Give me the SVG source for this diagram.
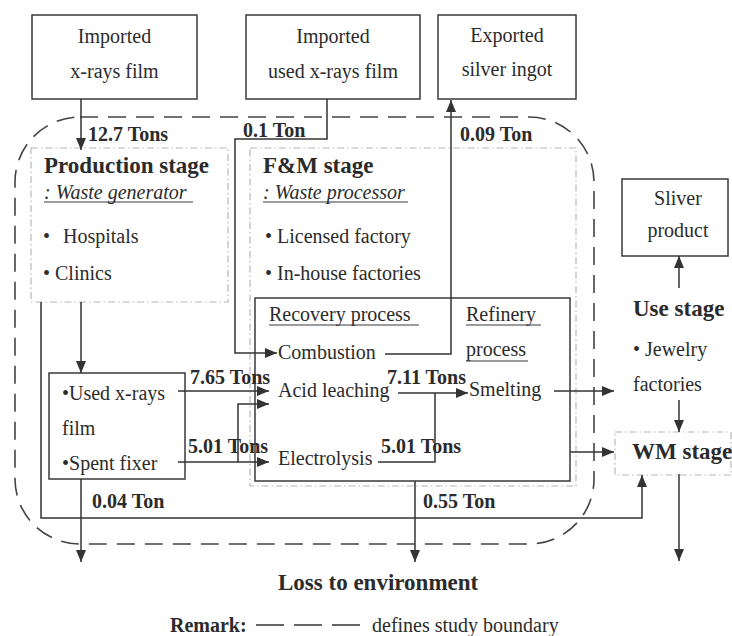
<svg xmlns="http://www.w3.org/2000/svg" width="732" height="636" viewBox="0 0 732 636">
<defs>
<marker id="ah" viewBox="0 0 12 10" refX="12" refY="5" markerWidth="12" markerHeight="10" markerUnits="userSpaceOnUse" orient="auto">
<path d="M0,0 L12,5 L0,10 z" fill="#333"/>
</marker>
<style>
text{font-family:"Liberation Serif","Times New Roman",serif;fill:#2b2b2b}
.t{font-size:20px}
.c{text-anchor:middle}
.b{font-size:20px;font-weight:bold}
.h{font-size:23px;font-weight:bold}
.i{font-size:20px;font-style:italic}
.box{fill:none;stroke:#3a3a3a;stroke-width:1.5}
.dot{fill:none;stroke:#b8b8b8;stroke-width:1.2;stroke-dasharray:7 3 1.5 3}
.bound{fill:none;stroke:#444;stroke-width:1.6;stroke-dasharray:18 10}
.ul{stroke:#3a3a3a;stroke-width:1.2}
#connectors path{fill:none;stroke:#333;stroke-width:1.5}
.arr{marker-end:url(#ah)}
</style>
</defs>
<rect width="732" height="636" fill="#fff"/>

<rect id="boundary" class="bound" x="15" y="117" width="579" height="427" rx="65" ry="65"/>

<g id="imported-film">
<rect class="box" x="32" y="15" width="165" height="84"/>
<text class="t c" x="114.5" y="43">Imported</text>
<text class="t c" x="114.5" y="78">x-rays film</text>
</g>
<g id="imported-used-film">
<rect class="box" x="246" y="15" width="174" height="84"/>
<text class="t c" x="333" y="43">Imported</text>
<text class="t c" x="333" y="78">used x-rays film</text>
</g>
<g id="exported-ingot">
<rect class="box" x="438" y="15" width="138" height="84"/>
<text class="t c" x="507" y="42">Exported</text>
<text class="t c" x="507" y="76">silver ingot</text>
</g>

<g id="production-stage">
<rect class="dot" x="31" y="148" width="197" height="154"/>
<text class="h" x="44" y="173">Production stage</text>
<text class="i" x="44" y="199">: Waste generator</text>
<line class="ul" x1="44" y1="202" x2="193" y2="202"/>
<text class="t" x="43" y="243">•<tspan x="63">Hospitals</tspan></text>
<text class="t" x="43" y="280">• Clinics</text>
</g>

<g id="fm-stage">
<rect class="dot" x="250" y="148" width="326" height="338"/>
<text class="h" x="263" y="173">F&amp;M stage</text>
<text class="i" x="263" y="199">: Waste processor</text>
<line class="ul" x1="263" y1="202" x2="408" y2="202"/>
<text class="t" x="265" y="243">• Licensed factory</text>
<text class="t" x="265" y="280">• In-house factories</text>
</g>

<g id="process-box">
<rect class="box" x="255" y="298" width="315" height="183"/>
<text class="t" x="269" y="321">Recovery process</text>
<line class="ul" x1="269" y1="325" x2="419" y2="325"/>
<text class="t" x="466" y="321">Refinery</text>
<line class="ul" x1="466" y1="325" x2="541" y2="325"/>
<text class="t" x="466" y="356">process</text>
<line class="ul" x1="466" y1="361" x2="528" y2="361"/>
<text class="t" x="278" y="359">Combustion</text>
<text class="t" x="278" y="397">Acid leaching</text>
<text class="t" x="278" y="465">Electrolysis</text>
<text class="t" x="469" y="396">Smelting</text>
</g>

<g id="used-box">
<rect class="box" x="49" y="373" width="136" height="106"/>
<text class="t" x="62" y="400">•Used x-rays</text>
<text class="t" x="62" y="435">film</text>
<text class="t" x="62" y="470">•Spent fixer</text>
</g>

<g id="silver-product">
<rect class="box" x="622" y="179" width="106" height="77"/>
<text class="t c" x="678" y="205">Sliver</text>
<text class="t c" x="678" y="237">product</text>
</g>

<g id="use-stage">
<text class="h" x="633" y="316">Use stage</text>
<text class="t" x="633" y="356">• Jewelry</text>
<text class="t" x="633" y="391">factories</text>
</g>

<g id="wm-stage">
<rect class="dot" x="615" y="432" width="116" height="43"/>
<text class="h" x="632" y="459">WM stage</text>
</g>

<g id="loss">
<text class="h" x="278" y="590">Loss to environment</text>
</g>

<g id="remark">
<text class="b" x="170" y="632">Remark:</text>
<line x1="256" y1="625" x2="360" y2="625" stroke="#333" stroke-width="1.3" stroke-dasharray="28 10"/>
<text class="t" x="372" y="632">defines study boundary</text>
</g>

<g id="connectors">
<path class="arr" d="M81,99 V150"/>
<path class="arr" d="M327,99 V139 H235 V353 H277"/>
<path class="arr" d="M385,354 H451 V100"/>
<path class="arr" d="M81,302 V373"/>
<path class="arr" d="M178,391 H269"/>
<path class="arr" d="M178,462 H269"/>
<path class="arr" d="M238,462 V404 H269"/>
<path class="arr" d="M398,393 H468"/>
<path d="M378,462 H435 V393"/>
<path class="arr" d="M554,391 H614"/>
<path class="arr" d="M570,452 H614"/>
<path class="arr" d="M679,288 V256"/>
<path class="arr" d="M679,400 V432"/>
<path class="arr" d="M679,474 V561"/>
<path class="arr" d="M41,302 V518 H642 V475"/>
<path class="arr" d="M81,479 V562"/>
<path class="arr" d="M415,481 V562"/>
</g>

<g id="labels">
<text class="b" x="88" y="141">12.7 Tons</text>
<text class="b" x="243" y="137">0.1 Ton</text>
<text class="b" x="460" y="141">0.09 Ton</text>
<text class="b" x="190" y="384">7.65 Tons</text>
<text class="b" x="188" y="453">5.01 Tons</text>
<text class="b" x="387" y="384">7.11 Tons</text>
<text class="b" x="381" y="453">5.01 Tons</text>
<text class="b" x="92" y="508">0.04 Ton</text>
<text class="b" x="423" y="508">0.55 Ton</text>
</g>
</svg>
